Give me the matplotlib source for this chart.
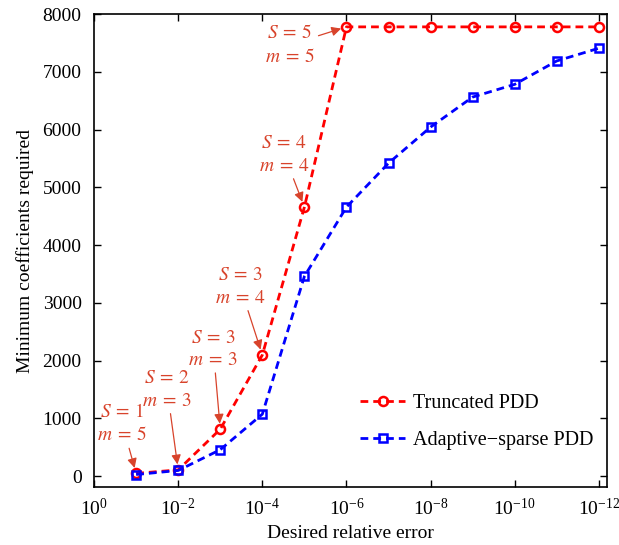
import numpy as np
import matplotlib
matplotlib.use("Agg")
import matplotlib.pyplot as plt

plt.rcParams['font.family'] = ['Liberation Serif', 'DejaVu Serif']
plt.rcParams['mathtext.fontset'] = 'stix'

# data
err = [1e-1, 1e-2, 1e-3, 1e-4, 1e-5, 1e-6, 1e-7, 1e-8, 1e-9, 1e-10, 1e-11, 1e-12]
truncated = [50, 110, 815, 2100, 4660, 7780, 7780, 7780, 7780, 7780, 7780, 7780]
adaptive = [30, 100, 460, 1075, 3460, 4660, 5420, 6045, 6565, 6785, 7190, 7410]

notes = ["$S\\:=\\:1$\n$m\\:=\\:5$", "$S\\:=\\:2$\n$m\\:=\\:3$", "$S\\:=\\:3$\n$m\\:=\\:3$",
         "$S\\:=\\:3$\n$m\\:=\\:4$", "$S\\:=\\:4$\n$m\\:=\\:4$", "$S\\:=\\:5$\n$m\\:=\\:5$"]
note_idx = [0, 1, 2, 3, 4, 5]
note_off = [(-14, 50), (-11, 80), (-7, 80), (-22, 68), (-20, 52), (-57, -18)]

fig = plt.figure(figsize=(6.19, 5.45), dpi=100)
ax = fig.add_axes([0.152, 0.106, 0.829, 0.868])

ax.plot(err, truncated, '--o', color='red', lw=2, ms=6.5, mfc='none', mew=1.8,
        dashes=(2.8, 1.8), label='Truncated PDD')
ax.plot(err, adaptive, '--s', color='blue', lw=2, ms=6, mfc='none', mew=1.8,
        dashes=(2.8, 1.8), label='Adaptive\u2212sparse PDD')

ax.set_xscale('log')
ax.set_xlim(1, 10**-12.2)
ax.set_ylim(-190, 8000)
ax.set_xticks([10.0**-k for k in range(0, 13, 2)])
ax.xaxis.set_minor_locator(matplotlib.ticker.NullLocator())
ax.set_yticks(range(0, 8001, 1000))
ax.tick_params(direction='in', top=True, right=True, labelsize=14, length=5, width=1)
ax.tick_params(axis='x', pad=8)
ax.tick_params(axis='y', pad=9)
for s in ax.spines.values():
    s.set_linewidth(1.2)

ax.set_xlabel('Desired relative error', fontsize=14, labelpad=4)
ax.set_ylabel('Minimum coefficients required', fontsize=14, labelpad=6)

annc = '#d8432b'
for txt, i, off in zip(notes, note_idx, note_off):
    ax.annotate(txt, xy=(err[i], truncated[i]), xytext=off, textcoords='offset pixels',
                ha='center', va='center', color=annc, fontsize=14, linespacing=1.4,
                arrowprops=dict(arrowstyle='-|>', color=annc, lw=0.9, shrinkA=1, shrinkB=4,
                                mutation_scale=14))

ax.legend(loc='lower right', bbox_to_anchor=(1.0, 0.048), frameon=False, fontsize=14.5,
          handlelength=2.2, handletextpad=0.4, labelspacing=0.9, borderaxespad=0.3)

fig.savefig('out.png', dpi=100)
